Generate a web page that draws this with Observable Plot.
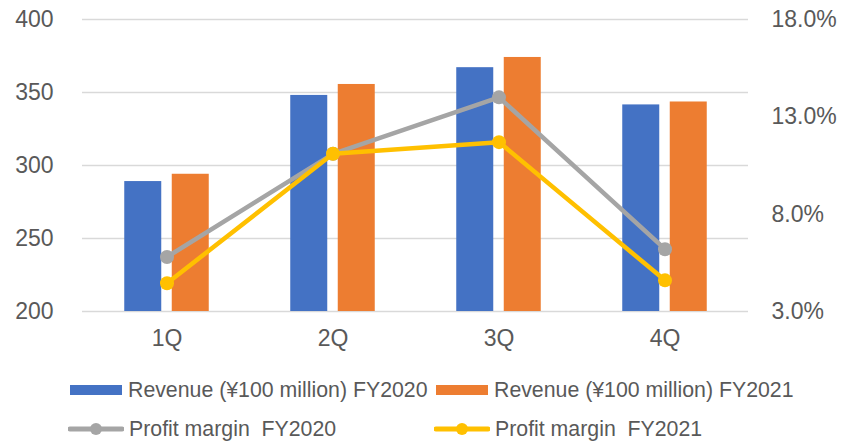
<!DOCTYPE html>
<html><head><meta charset="utf-8">
<script src="https://cdn.jsdelivr.net/npm/d3@7"></script>
<script src="https://cdn.jsdelivr.net/npm/@observablehq/plot@0.6"></script>
<style>
body{margin:0;background:#fff;font-family:"Liberation Sans",Arial,sans-serif;}
#wrap{position:relative;width:846px;height:448px;overflow:hidden;}
#legend{position:absolute;left:0;top:360px;width:846px;height:88px;}
.item{position:absolute;display:flex;align-items:center;font-size:21.3px;color:#595959;white-space:pre;}
.item svg{margin-right:5px;}
</style></head><body>
<div id="wrap"><div id="chart"></div><div id="legend"></div></div>
<script>
const quarters = ["1Q", "2Q", "3Q", "4Q"];
const revenue2020 = [289, 348, 367, 341.5];
const revenue2021 = [294, 355.5, 374, 343.5];
const margin2020 = [5.8, 11.1, 14.0, 6.2];
const margin2021 = [4.45, 11.1, 11.7, 4.6];
const leftTicks = [200, 250, 300, 350, 400];
const rightTicks = [3, 8, 13, 18];
const seriesNames = ["Revenue (¥100 million) FY2020", "Revenue (¥100 million) FY2021", "Profit margin  FY2020", "Profit margin  FY2021"];
const colors = ["#4472C4", "#ED7D31", "#A5A5A5", "#FFC000"];

// right axis (percent) mapped onto left axis units
const pMin = 3, pMax = 18, yMin = 200, yMax = 400;
const pctToY = p => yMin + (p - pMin) * (yMax - yMin) / (pMax - pMin);
const yToPct = y => pMin + (y - yMin) * (pMax - pMin) / (yMax - yMin);

const bars2020 = quarters.map((q, i) => ({q, v: revenue2020[i]}));
const bars2021 = quarters.map((q, i) => ({q, v: revenue2021[i]}));
const line2020 = quarters.map((q, i) => ({q, y: pctToY(margin2020[i])}));
const line2021 = quarters.map((q, i) => ({q, y: pctToY(margin2021[i])}));

const font = "Liberation Sans, Arial, sans-serif";
const chart = Plot.plot({
  width: 846, height: 360,
  marginTop: 19, marginBottom: 49, marginLeft: 82, marginRight: 98,
  style: {fontFamily: font, fontSize: "23px", color: "#595959", background: "#fff"},
  x: {domain: quarters, paddingInner: 0.778, paddingOuter: 0.389, label: null},
  y: {domain: [yMin, yMax], label: null},
  marks: [
    Plot.gridY(leftTicks, {stroke: "#D9D9D9", strokeOpacity: 1, strokeWidth: 1.5}),
    Plot.barY(bars2020, {x: "q", y1: yMin, y2: "v", fill: colors[0], dx: -23.75}),
    Plot.barY(bars2021, {x: "q", y1: yMin, y2: "v", fill: colors[1], dx: 23.75}),
    Plot.line(line2020, {x: "q", y: "y", stroke: colors[2], strokeWidth: 4.5}),
    Plot.dot(line2020, {x: "q", y: "y", fill: colors[2], r: 7, stroke: null}),
    Plot.line(line2021, {x: "q", y: "y", stroke: colors[3], strokeWidth: 4.5}),
    Plot.dot(line2021, {x: "q", y: "y", fill: colors[3], r: 7, stroke: null}),
    Plot.axisY(leftTicks, {anchor: "left", tickSize: 0, tickPadding: 29, fontSize: 23, fill: "#595959", label: null}),
    Plot.axisY(rightTicks.map(pctToY), {anchor: "right", tickSize: 0, tickPadding: 23, fontSize: 23, fill: "#595959", label: null,
      tickFormat: d => yToPct(d).toFixed(1) + "%"}),
    Plot.axisX({tickSize: 0, tickPadding: 18, fontSize: 23, fill: "#595959", label: null})
  ]
});
document.getElementById("chart").appendChild(chart);

// legend
const legend = document.getElementById("legend");
const pos = [[70, 30], [436, 30], [68, 69], [434, 69]];
seriesNames.forEach((name, i) => {
  const div = document.createElement("div");
  div.className = "item";
  div.style.left = pos[i][0] + "px";
  div.style.top = (pos[i][1] - 14) + "px";
  div.style.height = "28px";
  let sw;
  if (i < 2) {
    sw = `<svg width="53" height="28"><rect x="0" y="9" width="52" height="10" fill="${colors[i]}"/></svg>`;
  } else {
    sw = `<svg width="56" height="28"><line x1="2" y1="14" x2="54" y2="14" stroke="${colors[i]}" stroke-width="5" stroke-linecap="round"/><circle cx="28" cy="14" r="6" fill="${colors[i]}"/></svg>`;
  }
  div.innerHTML = sw + `<span>${name}</span>`;
  legend.appendChild(div);
});
</script>
</body></html>
